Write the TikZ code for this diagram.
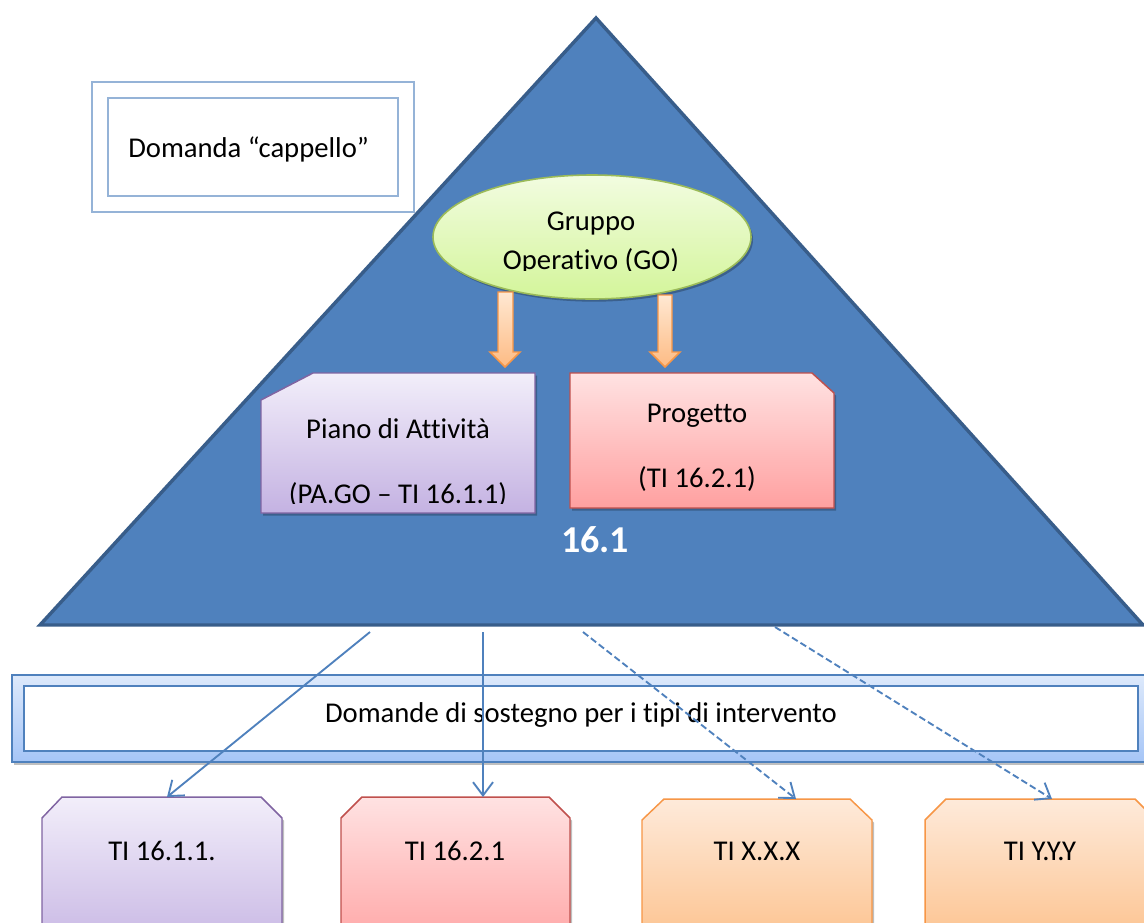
\documentclass[tikz,border=0pt]{standalone}
\usepackage{fontspec}
\setmainfont{Carlito}[Ligatures=NoCommon]
\usetikzlibrary{arrows.meta,shapes.geometric,shadows}
\definecolor{triFill}{HTML}{4F81BD}
\definecolor{triLine}{HTML}{385D8A}
\definecolor{capLine}{HTML}{95B3D7}
\definecolor{goTop}{HTML}{F2FCE0}
\definecolor{goBot}{HTML}{D3F59A}
\definecolor{goLine}{HTML}{9BBB59}
\definecolor{puTop}{HTML}{F2EEFA}
\definecolor{puBot}{HTML}{C4B2E2}
\definecolor{puLine}{HTML}{8064A2}
\definecolor{rdTop}{HTML}{FFE2E2}
\definecolor{rdBot}{HTML}{FFA0A0}
\definecolor{rdLine}{HTML}{C0504D}
\definecolor{orTop}{HTML}{FEEADA}
\definecolor{orBot}{HTML}{FCBE86}
\definecolor{orLine}{HTML}{F79646}
\definecolor{arTop}{HTML}{FFE8D2}
\definecolor{arBot}{HTML}{FDBB84}
\definecolor{bdTop}{HTML}{DDE9FB}
\definecolor{bdBot}{HTML}{A5C5F7}
\begin{document}
\begin{tikzpicture}[x=0.75pt,y=-0.75pt,
  lbl/.style={font=\fontsize{21.5}{26}\selectfont, inner sep=0pt, anchor=base},
  softshadow/.style={drop shadow={shadow xshift=1.5pt, shadow yshift=-2pt, opacity=0.25, fill=black}},
  blockarrow/.style={draw=orLine, line width=1.1pt, top color=arTop, bottom color=arBot, line join=miter},
  purplebox/.style={draw=puLine, line width=1.1pt, top color=puTop, bottom color=puBot},
  redbox/.style={draw=rdLine, line width=1.1pt, top color=rdTop, bottom color=rdBot},
  orangebox/.style={draw=orLine, line width=1.1pt, top color=orTop, bottom color=orBot},
  conn/.style={draw=triFill, line width=1.4pt, -{Straight Barb[length=10pt,width=15pt]}},
  dconn/.style={conn, dash pattern=on 5pt off 2.5pt}
]
\useasboundingbox (0,0) rectangle (1144,922);
\clip (0,0) rectangle (1144,922);
\fill[white] (0,0) rectangle (1144,922);

% pyramid
\draw[fill=triFill, draw=triLine, line width=2.6pt] (596,18) -- (1143,625) -- (40,625) -- cycle;
\coordinate (s1) at (370,632);
\coordinate (s2) at (483,632);
\coordinate (s3) at (583,632);
\coordinate (s4) at (775,627);

% Domanda cappello
\draw[capLine, line width=0.9pt] (92,82) rectangle (414,212);
\draw[capLine, line width=0.9pt] (108,98) rectangle (398,196);
\node[lbl, anchor=base west] (cap) at (128,157) {Domanda “cappello”};

% Gruppo Operativo
\node[ellipse, draw=goLine, line width=1.2pt, top color=goTop, bottom color=goBot,
      minimum width=238.5pt, minimum height=93pt, inner sep=0pt, softshadow] (go) at (592,237) {};
\begin{scope}
  \clip (420,180) rectangle (760,270);
  \node[lbl] (go1) at (591,230) {Gruppo};
  \node[lbl] (go2) at (591,269) {Operativo (GO)};
\end{scope}

% block arrows
\path[blockarrow] (498,292) -- (513,292) -- (513,352) -- (520,352) -- (505,367) -- (490,352) -- (498,352) -- cycle;
\path[blockarrow] (658,295) -- (672,295) -- (672,352) -- (680,352) -- (665,367) -- (650,352) -- (658,352) -- cycle;

% Piano di Attivita
\path[purplebox, softshadow] (261,400) -- (313,373) -- (535,373) -- (535,513) -- (261,513) -- cycle;
\begin{scope}
  \clip (261,373) rectangle (535,503);
  \node[lbl] (pa1) at (398,438) {Piano di Attività};
  \node[lbl] (pa2) at (398,503.5) {(PA.GO – TI 16.1.1)};
\end{scope}

% Progetto
\path[redbox, softshadow] (570,373) -- (812,373) -- (834,393) -- (834,508) -- (570,508) -- cycle;
\node[lbl] (pr1) at (697,422) {Progetto};
\node[lbl] (pr2) at (697,487) {(TI 16.2.1)};

% 16.1
\node[font=\fontsize{28.5}{34}\selectfont\bfseries, text=white, inner sep=0pt, anchor=base] (t161) at (595,552) {16.1};

% band
\path[draw=triFill, line width=1.5pt, top color=bdTop, bottom color=bdBot, softshadow] (12,675) rectangle (1165,762);
\draw[triFill, line width=1.5pt, fill=white] (24,686) rectangle (1138,751);
\node[lbl] (band) at (581,722) {Domande di sostegno per i tipi di intervento};

% bottom boxes
\path[purplebox, softshadow] (42,818) -- (62,797) -- (261,797) -- (282,818) -- (282,960) -- (42,960) -- cycle;
\path[redbox, softshadow] (341,818) -- (362,797) -- (549,797) -- (570,818) -- (570,960) -- (341,960) -- cycle;
\path[orangebox, softshadow] (642,820) -- (664,799) -- (850,799) -- (872,820) -- (872,960) -- (642,960) -- cycle;
\path[orangebox, softshadow] (925,820) -- (946,799) -- (1135,799) -- (1156,820) -- (1156,960) -- (925,960) -- cycle;
\node[lbl] (b1) at (162,860) {TI 16.1.1.};
\node[lbl] (b2) at (455,860) {TI 16.2.1};
\node[lbl] (b3) at (757,860) {TI X.X.X};
\node[lbl] (b4) at (1040,860) {TI Y.Y.Y};
\coordinate (e1) at (167,797);
\coordinate (e2) at (483,797);
\coordinate (e3) at (796,799);
\coordinate (e4) at (1052,799);

% connectors
\draw[conn] (s1) -- (e1);
\draw[conn] (s2) -- (e2);
\draw[dconn] (s3) -- (e3);
\draw[dconn] (s4) -- (e4);
\end{tikzpicture}
\end{document}
